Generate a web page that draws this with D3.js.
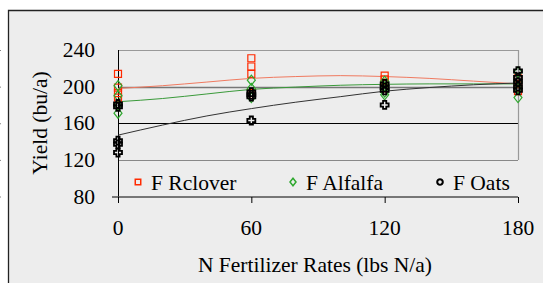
<!DOCTYPE html>
<html>
<head>
<meta charset="utf-8">
<script src="https://cdn.jsdelivr.net/npm/d3@7"></script>
<style>
  body { margin: 0; background: #fff; }
</style>
</head>
<body>
<div id="chart"></div>
<script>
// N rates and observed yields (bu/a) per rotation
var rates = [0, 60, 120, 180];
var rcloverYield = [[214, 199, 193, 188], [231, 222, 214, 193], [212, 208, 203, 198], [209, 203, 198, 195]];
var alfalfaYield = [[201, 190, 180, 171], [207, 198, 188], [206, 200, 194, 191], [216, 205, 198, 188]];
var oatsYield = [[181, 178, 141, 137, 128], [194, 191, 189, 163], [203, 199, 196, 180], [217, 210, 205, 200, 196]];

// fitted response curves
var trendRates = [0, 20, 40, 60, 80, 100, 120, 140, 160, 180];
var rcloverTrend = [198, 201, 205, 209, 211, 212, 211, 209, 206, 203];
var alfalfaTrend = [183.5, 187, 192, 197, 199.5, 201.5, 202.5, 203, 203, 203];
var oatsTrend = [147, 158, 168, 176, 183, 189, 195, 199, 202, 204];

var yTicks = [80, 120, 160, 200, 240];
var xTicks = [0, 60, 120, 180];
var gridLines = [120, 160, 200];

var svgWidth = 543;
var svgHeight = 283;
var serif = "Liberation Serif";
var fontSize = 21.5;

var svg = d3.select("#chart")
  .append("svg")
  .attr("width", svgWidth)
  .attr("height", svgHeight)
  .style("display", "block");

// outer chart area
svg.append("rect")
  .attr("x", 8).attr("y", 10)
  .attr("width", svgWidth - 8).attr("height", svgHeight - 10)
  .attr("fill", "#ededed");
svg.append("path")
  .attr("d", `M8.5,${svgHeight}V10.5H${svgWidth}`)
  .attr("fill", "none")
  .attr("stroke", "#222")
  .attr("stroke-width", 1.3);

var x = d3.scaleLinear().domain([0, 180]).range([118, 518]);
var y = d3.scaleLinear().domain([80, 240]).range([196.5, 50]);

// grid lines
var gridColor = { 120: "#888", 160: "#000", 200: "#777" };
svg.selectAll(".grid")
  .data(gridLines)
  .enter()
  .append("line")
  .attr("x1", x(0)).attr("x2", x(180))
  .attr("y1", d => Math.round(y(d)) + 0.5)
  .attr("y2", d => Math.round(y(d)) + 0.5)
  .attr("stroke", d => gridColor[d])
  .attr("stroke-width", d => d == 200 ? 1.5 : 1);

// plot frame top / right
svg.append("path")
  .attr("d", `M${x(0)},${Math.round(y(240)) + 0.5}H${x(180) + 0.5}V${Math.round(y(120))}`)
  .attr("fill", "none")
  .attr("stroke", "#999")
  .attr("stroke-width", 1.2);

// axes
var leftAxis = d3.axisLeft(y).tickValues(yTicks).tickSize(6).tickFormat("");
var bottomAxis = d3.axisBottom(x).tickValues(xTicks).tickSize(6).tickFormat("");

svg.append("g")
  .attr("transform", "translate(0.5,0)")
  .call(leftAxis)
  .call(g => g.select(".domain").attr("d", `M${x(0)},${y(240)}V${y(80)}`));

svg.append("g")
  .attr("transform", `translate(0,${y(80) + 0.5})`)
  .call(bottomAxis)
  .call(g => g.select(".domain").attr("d", `M${x(0) - 6},0H${x(180)}`));

svg.selectAll(".domain, .tick line").attr("stroke", "#000").attr("stroke-width", 1);

// tick labels
svg.selectAll(".ylab")
  .data(yTicks)
  .enter()
  .append("text")
  .attr("x", 95)
  .attr("y", d => y(d) + 7)
  .attr("text-anchor", "end")
  .attr("font-family", serif)
  .attr("font-size", fontSize)
  .text(d => d);

svg.selectAll(".xlab")
  .data(xTicks)
  .enter()
  .append("text")
  .attr("x", d => x(d))
  .attr("y", 235)
  .attr("text-anchor", "middle")
  .attr("font-family", serif)
  .attr("font-size", fontSize)
  .text(d => d);

svg.append("text")
  .attr("x", 315)
  .attr("y", 272)
  .attr("text-anchor", "middle")
  .attr("font-family", serif)
  .attr("font-size", fontSize)
  .text("N Fertilizer Rates (lbs N/a)");

svg.append("text")
  .attr("transform", "translate(47,123) rotate(-90)")
  .attr("text-anchor", "middle")
  .attr("font-family", serif)
  .attr("font-size", fontSize)
  .text("Yield (bu/a)");

// marker shapes
var squareSym = { draw: function(ctx, size) { var r = Math.sqrt(size) / 2; ctx.rect(-r, -r, 2 * r, 2 * r); } };
var diamondSym = { draw: function(ctx, size) { var w = Math.sqrt(size) / 2, h = w * 1.25;
  ctx.moveTo(0, -h); ctx.lineTo(w, 0); ctx.lineTo(0, h); ctx.lineTo(-w, 0); ctx.closePath(); } };
var crossSym = { draw: function(ctx, size) { var r = Math.sqrt(size) / 2, a = r * 0.4;
  ctx.moveTo(-a, -r); ctx.lineTo(a, -r); ctx.lineTo(a, -a); ctx.lineTo(r, -a); ctx.lineTo(r, a);
  ctx.lineTo(a, a); ctx.lineTo(a, r); ctx.lineTo(-a, r); ctx.lineTo(-a, a); ctx.lineTo(-r, a);
  ctx.lineTo(-r, -a); ctx.lineTo(-a, -a); ctx.closePath(); } };

// trend lines
var line = d3.line()
  .x((d, i) => x(trendRates[i]))
  .y(d => y(d))
  .curve(d3.curveMonotoneX);

var series = [
  { name: "F Rclover", pts: rcloverYield, trend: rcloverTrend, color: "#ff2a00", lineColor: "#f07a60", symbol: squareSym, size: 49, sw: 1.2, legendSym: squareSym, legendSize: 30 },
  { name: "F Alfalfa", pts: alfalfaYield, trend: alfalfaTrend, color: "#2ea82e", lineColor: "#3a9a3a", symbol: diamondSym, size: 64, sw: 1.2, legendSym: diamondSym, legendSize: 36 },
  { name: "F Oats", pts: oatsYield, trend: oatsTrend, color: "#000", lineColor: "#333", symbol: crossSym, size: 64, sw: 1.8, legendSym: d3.symbolCircle, legendSize: 24 }
];

series.forEach(function(s) {
  svg.append("path")
    .datum(s.trend)
    .attr("d", line)
    .attr("fill", "none")
    .attr("stroke", s.lineColor)
    .attr("stroke-width", 1);
});

// observed points
series.forEach(function(s) {
  var flat = [];
  s.pts.forEach(function(vals, i) {
    vals.forEach(function(v) { flat.push({ rate: rates[i], v: v }); });
  });
  svg.append("g")
    .selectAll("path")
    .data(flat)
    .enter()
    .append("path")
    .attr("d", d3.symbol().type(s.symbol).size(s.size))
    .attr("transform", d => `translate(${x(d.rate)},${y(d.v)})`)
    .attr("fill", "none")
    .attr("stroke", s.color)
    .attr("stroke-width", s.sw);
});

// legend
var legendX = [138, 293, 440];
series.forEach(function(s, i) {
  svg.append("path")
    .attr("d", d3.symbol().type(s.legendSym).size(s.legendSize))
    .attr("transform", `translate(${legendX[i]},182)`)
    .attr("fill", "none")
    .attr("stroke", s.color)
    .attr("stroke-width", s.sw + 0.3);
  svg.append("text")
    .attr("x", legendX[i] + 13)
    .attr("y", 190)
    .attr("font-family", serif)
    .attr("font-size", fontSize)
    .text(s.name);
});
</script>
</body>
</html>
